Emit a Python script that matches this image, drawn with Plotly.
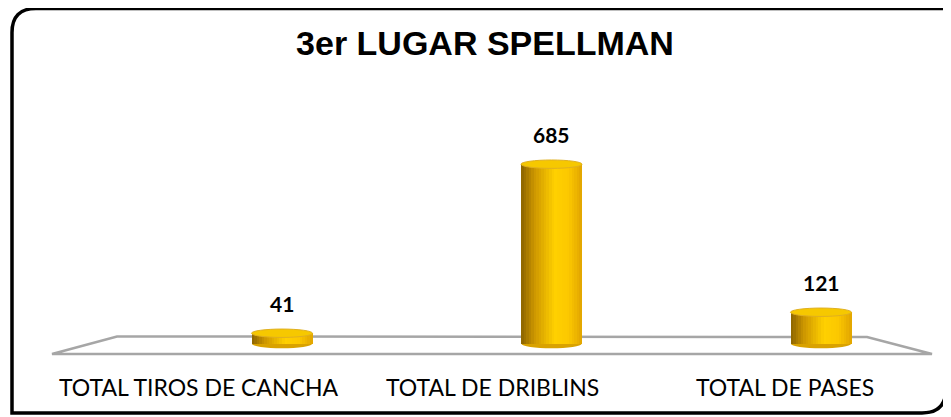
import plotly.graph_objects as go

# ---------------- data ----------------
categories = ["TOTAL TIROS DE CANCHA", "TOTAL DE DRIBLINS", "TOTAL DE PASES"]
values = [41, 685, 121]
title_text = "3er LUGAR SPELLMAN"

# ---------------- layout constants ----------------
W, H = 951, 417
OFF = 8                              # page body margin of the html page
X0_PX, DX_PX = 282 - OFF, 269.5      # pixel of first bar centre, spacing
Y0_PX, K = 344 - OFF, 0.2625         # pixel of value 0, pixels per unit
BAR_W = 61 / DX_PX                   # bar width in x units
CAP_H = 4.2 / K                      # half height of cylinder ellipse (y units)
LABEL_X_PX = [199, 492, 785]         # category label centres (perspective)

def P(px, py):
    return (px - OFF) / W, 1 - (py - OFF) / H

xpos = list(range(len(values)))

def lerp(c1, c2, t):
    return tuple(int(round(a + (b - a) * t)) for a, b in zip(c1, c2))

stops = [(0.0, (140, 100, 0)), (0.22, (205, 150, 0)), (0.55, (255, 208, 0)),
         (0.78, (252, 200, 0)), (1.0, (226, 165, 0))]

def grad(t):
    for (t1, c1), (t2, c2) in zip(stops[:-1], stops[1:]):
        if t <= t2:
            return "rgb(%d,%d,%d)" % lerp(c1, c2, (t - t1) / (t2 - t1))
    return "rgb(%d,%d,%d)" % stops[-1][1]

fig = go.Figure()

N = 24
sw = BAR_W / N
for i in range(N):
    t = (i + 0.5) / N
    fig.add_trace(go.Bar(
        x=xpos, y=values,
        width=[sw * 1.08] * len(values),
        offset=[-BAR_W / 2 + i * sw] * len(values),
        marker=dict(color=grad(t), line=dict(width=0)),
        hoverinfo="skip", showlegend=False,
    ))

shapes = []
# floor (trapezoid)
fl = [P(52, 354), P(117, 336.5), P(867, 337), P(932, 354)]
path = "M %f,%f L %f,%f L %f,%f L %f,%f Z" % (fl[0] + fl[1] + fl[2] + fl[3])
shapes.append(dict(type="path", xref="paper", yref="paper", path=path,
                   line=dict(color="#a6a6a6", width=2.5), fillcolor="white",
                   layer="below"))

for xi, v in zip(xpos, values):
    # bottom ellipse
    shapes.append(dict(type="circle", xref="x", yref="y",
                       x0=xi - BAR_W / 2 + 0.002, x1=xi + BAR_W / 2 - 0.002,
                       y0=-CAP_H, y1=CAP_H,
                       fillcolor="#d9a200", line=dict(width=0), layer="below"))
    # top ellipse
    shapes.append(dict(type="circle", xref="x", yref="y",
                       x0=xi - BAR_W / 2, x1=xi + BAR_W / 2,
                       y0=v - CAP_H, y1=v + CAP_H,
                       fillcolor="#f6c800", line=dict(color="#e0b020", width=1),
                       layer="above"))

# rounded border
x1, y1, x2, y2, r = 12, 8.5, 946, 413, 24
pts = [P(x1 + r, y1), P(x2, y1), P(x2, y2 - r), P(x2, y2), P(x2 - r, y2),
       P(x1, y2), P(x1, y1 + r), P(x1, y1), P(x1 + r, y1)]
bpath = ("M %f,%f L %f,%f L %f,%f Q %f,%f %f,%f L %f,%f L %f,%f Q %f,%f %f,%f Z"
         % (pts[0] + pts[1] + pts[2] + pts[3] + pts[4] + pts[5] + pts[6] + pts[7] + pts[8]))
shapes.append(dict(type="path", xref="paper", yref="paper", path=bpath,
                   line=dict(color="black", width=3.5), layer="above"))

annotations = []
for xi, v in zip(xpos, values):
    annotations.append(dict(x=xi, y=v, xref="x", yref="y", text="<b>%d</b>" % v,
                            showarrow=False, yshift=30, yanchor="middle",
                            font=dict(family="Lato", size=21, color="black")))
for lx, cat in zip(LABEL_X_PX, categories):
    ax, ay = P(lx, 387)
    annotations.append(dict(x=ax, y=ay, xref="paper", yref="paper", text=cat,
                            showarrow=False, xanchor="center", yanchor="middle",
                            font=dict(family="Lato", size=23, color="black")))

tx, ty = P(485, 43)
fig.update_layout(
    width=W, height=H,
    margin=dict(l=0, r=0, t=0, b=0),
    paper_bgcolor="white", plot_bgcolor="white",
    barmode="overlay", bargap=0,
    title=dict(text="<b>%s</b>" % title_text, x=tx, y=ty, xanchor="center",
               yanchor="middle", xref="paper", yref="paper",
               font=dict(family="Liberation Sans", size=34, color="black")),
    xaxis=dict(range=[(0 - X0_PX) / DX_PX, (W - X0_PX) / DX_PX], visible=False,
               fixedrange=True),
    yaxis=dict(range=[-(H - Y0_PX) / K, Y0_PX / K], visible=False, fixedrange=True),
    shapes=shapes, annotations=annotations,
)

fig.write_html("out.html")
